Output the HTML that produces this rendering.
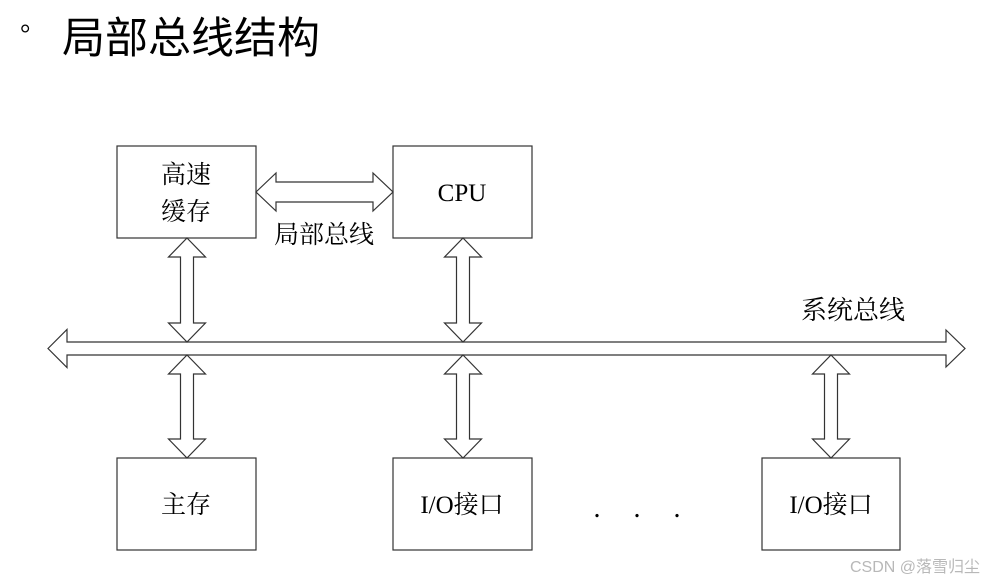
<!DOCTYPE html>
<html><head><meta charset="utf-8"><style>
html,body{margin:0;padding:0;background:#fff;}
svg{display:block}
text{font-family:"Liberation Serif","Noto Serif CJK SC","Noto Sans CJK SC",serif;fill:#000}
</style></head><body>
<svg width="1002" height="582" viewBox="0 0 1002 582" xmlns="http://www.w3.org/2000/svg">
<rect width="1002" height="582" fill="#fff"/>
<text x="20" y="42" font-size="26" font-family="Liberation Sans, sans-serif">°</text>
<text x="62" y="53" font-size="43" style="font-family:'Noto Sans CJK SC',sans-serif">局部总线结构</text>
<g fill="#fff" stroke="#333" stroke-width="1.2">
<rect x="117" y="146" width="139" height="92"/>
<rect x="393" y="146" width="139" height="92"/>
<rect x="117" y="458" width="139" height="92"/>
<rect x="393" y="458" width="139" height="92"/>
<rect x="762" y="458" width="138" height="92"/>
<!-- system bus -->
<polygon points="48,348.5 67,329.5 67,342 946,342 946,330 965,348.5 946,367 946,355 67,355 67,367.5"/>
<!-- local bus -->
<polygon points="256,192 276,173 276,182 373,182 373,173 393,192 373,211 373,202 276,202 276,211"/>
<!-- vertical arrows -->
<polygon points="187,238 205.5,257 193.5,257 193.5,323 205.5,323 187,342 168.5,323 180.5,323 180.5,257 168.5,257"/>
<polygon points="463,238 481.5,257 469.5,257 469.5,323 481.5,323 463,342 444.5,323 456.5,323 456.5,257 444.5,257"/>
<polygon points="187,355 205.5,374 193.5,374 193.5,439 205.5,439 187,458 168.5,439 180.5,439 180.5,374 168.5,374"/>
<polygon points="463,355 481.5,374 469.5,374 469.5,439 481.5,439 463,458 444.5,439 456.5,439 456.5,374 444.5,374"/>
<polygon points="831,355 849.5,374 837.5,374 837.5,439 849.5,439 831,458 812.5,439 824.5,439 824.5,374 812.5,374"/>
</g>
<text x="186" y="183" font-size="25" text-anchor="middle">高速</text>
<text x="186" y="220" font-size="25" text-anchor="middle">缓存</text>
<text x="462" y="201" font-size="25" text-anchor="middle">CPU</text>
<text x="324" y="243" font-size="25" text-anchor="middle">局部总线</text>
<text x="853" y="319" font-size="26" text-anchor="middle">系统总线</text>
<text x="186" y="513" font-size="25" text-anchor="middle">主存</text>
<text x="462" y="513" font-size="25" text-anchor="middle">I/O接口</text>
<text x="831" y="513" font-size="25" text-anchor="middle">I/O接口</text>
<text x="597" y="517" font-size="28" text-anchor="middle">.</text>
<text x="637" y="517" font-size="28" text-anchor="middle">.</text>
<text x="677" y="517" font-size="28" text-anchor="middle">.</text>
<text x="850" y="572" font-size="16" fill="#bbb" style="fill:#b8b8b8;font-family:'Liberation Sans','Noto Sans CJK SC',sans-serif">CSDN @落雪归尘</text>
</svg>
</body></html>
